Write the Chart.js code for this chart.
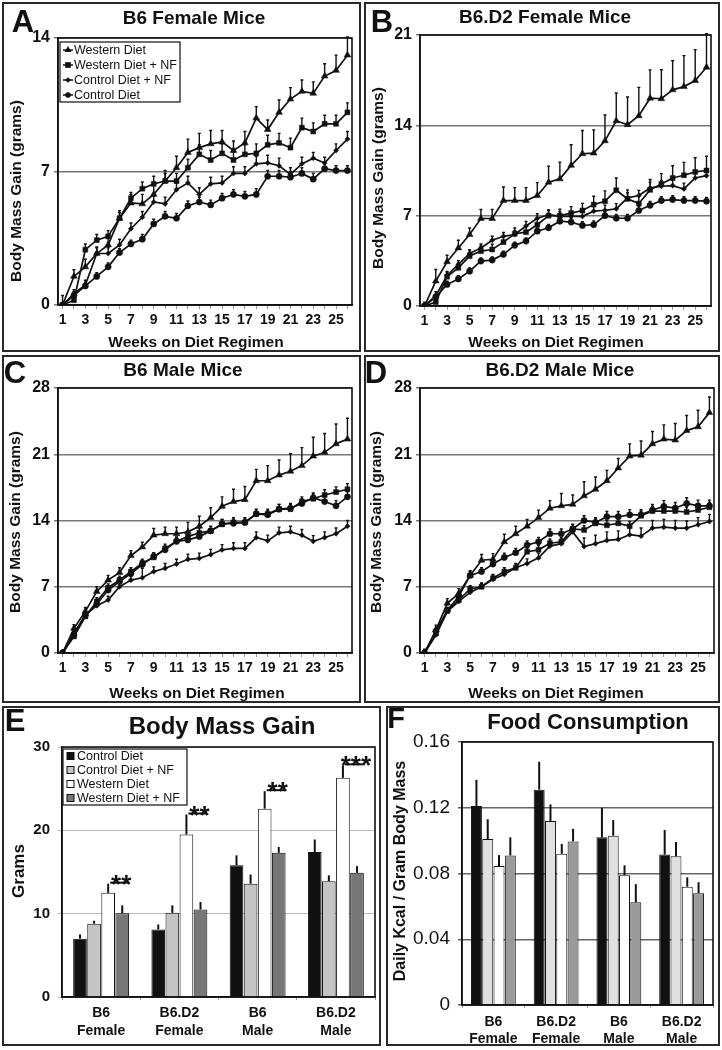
<!DOCTYPE html>
<html>
<head>
<meta charset="utf-8">
<title>Body mass gain and food consumption</title>
<script src="https://cdn.jsdelivr.net/npm/chart.js@4.4.1/dist/chart.umd.min.js"></script>
<style>
  html, body { margin: 0; padding: 0; background: #fff; }
  #page { position: relative; width: 722px; height: 1050px; overflow: hidden; font-family: "Liberation Sans", Arial, sans-serif; color: #111; }
  canvas { position: absolute; }
  .frame { position: absolute; box-sizing: border-box; border: 2px solid #2a2a2a; pointer-events: none; }
  .lbl { position: absolute; font-weight: bold; white-space: nowrap; line-height: 1; transform: translate(-50%, -50%); }
  .rot { transform: translate(-50%, -50%) rotate(-90deg); }
</style>
</head>
<body>
<div id="page"></div>
<script>
// x categories for the weekly curves
const weeks = [1, 2, 3, 4, 5, 6, 7, 8, 9, 10, 11, 12, 13, 14, 15, 16, 17, 18, 19, 20, 21, 22, 23, 24, 25, 26];
const lineSeries = ["Western Diet", "Western Diet + NF", "Control Diet + NF", "Control Diet"];

// A - B6 female
const b6fWestern   = [0, 1.5, 2.0, 2.7, 3.15, 4.55, 5.35, 5.3, 5.8, 6.5, 7.2, 8.0, 8.25, 8.45, 8.55, 8.1, 8.5, 9.8, 9.2, 10.1, 10.8, 11.2, 11.1, 12.0, 12.3, 13.1];
const b6fWesternNF = [0, 0.25, 2.9, 3.4, 3.6, 4.55, 5.6, 6.1, 6.35, 6.5, 6.5, 7.2, 7.9, 7.6, 7.95, 7.6, 7.9, 7.95, 8.4, 8.5, 8.25, 9.3, 9.1, 9.5, 9.5, 10.1];
const b6fControlNF = [0, 0.6, 1.05, 2.7, 2.7, 3.15, 4.0, 4.6, 5.4, 5.3, 6.05, 6.4, 5.8, 6.35, 6.4, 6.9, 6.9, 7.4, 7.45, 7.3, 6.85, 7.4, 7.7, 7.45, 8.1, 8.7];
const b6fControl   = [0, 0.5, 1.0, 1.5, 2.0, 2.75, 3.2, 3.45, 4.25, 4.65, 4.55, 5.2, 5.4, 5.25, 5.6, 5.8, 5.7, 5.8, 6.75, 6.75, 6.7, 6.9, 6.6, 7.15, 7.05, 7.05];
const b6fWesternErr   = [0.5, 0.35, 0.4, 0.35, 0.35, 0.4, 0.45, 0.5, 0.55, 0.55, 0.6, 0.7, 0.75, 0.7, 0.6, 0.5, 0.6, 0.6, 0.5, 0.65, 0.6, 0.6, 0.6, 0.65, 0.8, 0.95];
const b6fWesternNFErr = [0, 0.15, 0.3, 0.3, 0.3, 0.3, 0.3, 0.35, 0.4, 0.4, 0.4, 0.45, 0.5, 0.5, 0.5, 0.45, 0.5, 0.5, 0.5, 0.5, 0.5, 0.5, 0.45, 0.45, 0.45, 0.5];
const b6fControlNFErr = [0, 0.2, 0.25, 0.3, 0.3, 0.3, 0.3, 0.3, 0.3, 0.35, 0.35, 0.35, 0.35, 0.35, 0.35, 0.35, 0.35, 0.4, 0.4, 0.4, 0.35, 0.35, 0.3, 0.3, 0.35, 0.4];
const b6fControlErr   = [0, 0.2, 0.2, 0.2, 0.2, 0.2, 0.2, 0.25, 0.25, 0.25, 0.25, 0.25, 0.25, 0.25, 0.25, 0.25, 0.25, 0.3, 0.3, 0.3, 0.3, 0.3, 0.3, 0.25, 0.25, 0.25];

// B - B6.D2 female
const d2fWestern   = [0, 1.93, 3.43, 4.5, 5.54, 6.78, 6.78, 8.17, 8.17, 8.17, 8.56, 9.59, 9.85, 10.9, 11.8, 11.85, 12.8, 14.35, 14.05, 14.74, 16.1, 16.06, 16.75, 17.0, 17.47, 18.5];
const d2fWesternNF = [0, 0.3, 2.27, 2.96, 3.87, 4.25, 4.38, 4.95, 5.6, 5.72, 6.3, 7.0, 7.0, 7.2, 7.4, 7.86, 8.12, 8.97, 8.3, 7.94, 9.0, 9.46, 9.92, 10.13, 10.39, 10.5];
const d2fControlNF = [0, 0.8, 2.37, 3.22, 4.07, 4.5, 5.1, 5.4, 5.54, 6.2, 6.8, 7.07, 6.95, 6.95, 6.95, 7.35, 7.42, 7.53, 8.38, 8.56, 9.15, 9.28, 9.33, 9.07, 9.92, 10.1];
const d2fControl   = [0, 0.7, 1.67, 2.1, 2.7, 3.48, 3.56, 4.0, 4.7, 5.03, 5.8, 6.06, 6.57, 6.5, 6.24, 6.3, 7.0, 6.8, 6.8, 7.4, 7.8, 8.17, 8.25, 8.17, 8.17, 8.12];
const d2fWesternErr   = [0.3, 0.9, 0.5, 0.6, 0.5, 0.7, 0.7, 1.05, 1.0, 1.0, 1.0, 1.25, 1.3, 1.6, 1.8, 1.8, 2.0, 2.15, 2.15, 2.2, 2.2, 2.25, 2.25, 2.4, 2.4, 2.6];
const d2fWesternNFErr = [0, 0.3, 0.35, 0.35, 0.4, 0.4, 0.4, 0.45, 0.45, 0.45, 0.45, 0.45, 0.5, 0.5, 0.55, 0.65, 0.8, 0.95, 0.7, 0.6, 0.8, 0.8, 0.95, 1.0, 1.1, 1.1];
const d2fControlNFErr = [0, 0.3, 0.3, 0.3, 0.3, 0.3, 0.3, 0.3, 0.3, 0.35, 0.35, 0.35, 0.35, 0.35, 0.35, 0.35, 0.4, 0.4, 0.4, 0.4, 0.45, 0.45, 0.45, 0.45, 0.45, 0.45];
const d2fControlErr   = [0, 0.2, 0.25, 0.25, 0.25, 0.25, 0.25, 0.25, 0.25, 0.25, 0.25, 0.25, 0.25, 0.3, 0.3, 0.3, 0.3, 0.3, 0.3, 0.3, 0.3, 0.3, 0.3, 0.3, 0.3, 0.3];

// C - B6 male
const b6mWestern   = [0, 2.6, 4.4, 6.5, 7.7, 8.5, 10.3, 11.2, 12.45, 12.6, 12.6, 12.8, 13.4, 14.3, 15.5, 16.0, 16.2, 18.2, 18.2, 18.8, 19.2, 19.8, 20.8, 21.2, 22.1, 22.6];
const b6mWesternNF = [0, 1.75, 3.86, 5.44, 6.9, 7.72, 8.6, 9.5, 10.1, 11.05, 11.8, 12.3, 12.7, 12.9, 13.6, 13.8, 13.8, 14.7, 14.7, 15.2, 15.2, 16.0, 16.3, 16.7, 17.0, 17.3];
const b6mControlNF = [0, 2.1, 4.0, 5.0, 5.6, 7.0, 7.7, 7.95, 8.6, 8.95, 9.4, 9.9, 10.0, 10.4, 10.9, 11.05, 11.05, 12.2, 11.85, 12.7, 12.8, 12.45, 11.8, 12.2, 12.6, 13.4];
const b6mControl   = [0, 1.9, 4.0, 5.15, 6.65, 7.55, 8.4, 9.35, 10.2, 10.9, 11.8, 11.95, 12.3, 12.9, 13.65, 13.7, 13.8, 14.7, 14.6, 15.2, 15.3, 15.8, 16.4, 16.0, 15.55, 16.5];
const b6mWesternErr   = [0.3, 0.4, 0.4, 0.5, 0.5, 0.5, 0.5, 0.5, 0.7, 0.7, 0.7, 1.0, 1.05, 1.05, 1.0, 1.3, 1.4, 1.2, 1.6, 1.6, 1.85, 1.9, 2.0, 2.0, 2.1, 2.2];
const b6mWesternNFErr = [0, 0.3, 0.3, 0.4, 0.4, 0.4, 0.4, 0.4, 0.45, 0.45, 0.45, 0.5, 0.5, 0.5, 0.5, 0.5, 0.5, 0.5, 0.5, 0.5, 0.5, 0.5, 0.5, 0.55, 0.55, 0.6];
const b6mControlNFErr = [0, 0.3, 0.3, 0.4, 0.4, 0.4, 0.4, 1.0, 0.5, 0.5, 0.5, 0.55, 0.55, 0.55, 0.55, 0.6, 0.6, 0.6, 0.6, 0.6, 0.6, 0.6, 0.6, 0.6, 0.6, 0.6];
const b6mControlErr   = [0, 0.3, 0.3, 0.4, 0.4, 0.4, 0.4, 0.4, 0.4, 0.4, 0.4, 0.4, 0.45, 0.45, 0.45, 0.45, 0.45, 0.45, 0.45, 0.5, 0.5, 0.5, 0.5, 0.5, 0.55, 0.55];

// D - B6.D2 male
const d2mWestern   = [0, 2.45, 5.25, 6.3, 8.2, 9.8, 9.9, 11.75, 12.6, 13.4, 14.3, 15.3, 15.55, 15.7, 16.6, 17.3, 18.2, 19.55, 20.8, 20.9, 22.1, 22.6, 22.5, 23.5, 23.9, 25.4];
const d2mWesternNF = [0, 2.1, 4.45, 5.6, 6.77, 7.0, 7.9, 8.6, 9.0, 10.7, 10.9, 11.6, 11.75, 13.1, 13.0, 13.7, 13.5, 13.7, 13.4, 14.5, 15.0, 15.0, 15.0, 14.9, 15.1, 15.4];
const d2mControlNF = [0, 1.9, 4.4, 5.45, 6.4, 7.0, 7.8, 8.3, 9.0, 9.45, 10.05, 11.3, 11.55, 12.8, 11.25, 11.55, 11.9, 12.0, 12.5, 12.35, 13.2, 13.3, 13.2, 13.2, 13.55, 13.9];
const d2mControl   = [0, 2.3, 4.5, 6.0, 8.2, 8.6, 9.4, 10.1, 10.6, 11.4, 11.75, 12.6, 12.6, 13.1, 14.0, 13.8, 14.4, 14.4, 14.6, 14.6, 15.1, 15.5, 15.3, 15.8, 15.55, 15.55];
const d2mWesternErr   = [0.4, 0.5, 0.5, 0.5, 0.5, 0.6, 0.6, 0.8, 0.8, 0.7, 0.8, 0.8, 1.3, 1.0, 1.5, 1.3, 1.1, 1.0, 1.3, 1.5, 1.3, 1.5, 1.75, 1.6, 1.75, 1.65];
const d2mWesternNFErr = [0, 0.3, 0.3, 0.35, 0.35, 0.35, 0.4, 0.4, 0.4, 0.4, 0.45, 0.45, 0.45, 0.45, 0.45, 0.5, 0.5, 0.5, 0.5, 0.5, 0.5, 0.5, 0.5, 0.5, 0.5, 0.5];
const d2mControlNFErr = [0, 0.3, 0.3, 0.4, 0.4, 0.4, 0.45, 0.45, 0.45, 0.5, 0.5, 0.5, 0.5, 0.5, 0.9, 0.9, 0.9, 0.9, 0.9, 0.85, 0.8, 0.8, 0.8, 0.75, 0.75, 0.75];
const d2mControlErr   = [0, 0.3, 0.3, 0.4, 0.4, 0.4, 0.4, 0.45, 0.45, 0.45, 0.45, 0.5, 0.5, 0.5, 0.5, 0.5, 0.55, 0.55, 0.55, 0.55, 0.6, 0.6, 0.6, 0.6, 0.6, 0.6];

// E / F bar groups
const groups = [["B6", "Female"], ["B6.D2", "Female"], ["B6", "Male"], ["B6.D2", "Male"]];
const barSeries = ["Control Diet", "Control Diet + NF", "Western Diet", "Western Diet + NF"];

const gainControl   = [7.0, 8.1, 15.8, 17.4];
const gainControlNF = [8.8, 10.1, 13.6, 13.9];
const gainWestern   = [12.5, 19.5, 22.6, 26.3];
const gainWesternNF = [10.05, 10.5, 17.3, 14.9];
const gainControlErr   = [0.5, 0.6, 1.2, 1.5];
const gainControlNFErr = [0.35, 0.9, 1.1, 0.7];
const gainWesternErr   = [1.1, 2.4, 2.1, 1.5];
const gainWesternNFErr = [0.95, 0.9, 0.7, 0.8];
const gainStars = ["**", "**", "**", "***"];

const foodControl   = [0.121, 0.131, 0.102, 0.0915];
const foodControlNF = [0.101, 0.112, 0.103, 0.0905];
const foodWestern   = [0.0845, 0.092, 0.079, 0.072];
const foodWesternNF = [0.091, 0.0995, 0.0625, 0.068];
const foodControlErr   = [0.016, 0.017, 0.018, 0.015];
const foodControlNFErr = [0.012, 0.010, 0.0095, 0.0087];
const foodWesternErr   = [0.0067, 0.006, 0.006, 0.0057];
const foodWesternNFErr = [0.011, 0.0077, 0.011, 0.0067];

// tick values
const ticksA = [0, 7, 14];
const ticksB = [0, 7, 14, 21];
const ticksCD = [0, 7, 14, 21, 28];
const ticksE = [0, 10, 20, 30];
const ticksF = [0, 0.04, 0.08, 0.12, 0.16];

Chart.defaults.font.family = '"Liberation Sans", Arial, sans-serif';
Chart.defaults.color = "#111";

const page = document.getElementById("page");

function drawMarker(ctx, style, r, x, y) {
  ctx.beginPath();
  if (style === "triangle") {
    ctx.moveTo(x, y - r * 1.15); ctx.lineTo(x + r, y + r * 0.6); ctx.lineTo(x - r, y + r * 0.6); ctx.closePath();
  } else if (style === "rect") {
    ctx.rect(x - r * 0.9, y - r * 0.9, r * 1.8, r * 1.8);
  } else if (style === "rectRot") {
    ctx.moveTo(x, y - r * 1.2); ctx.lineTo(x + r * 1.2, y); ctx.lineTo(x, y + r * 1.2); ctx.lineTo(x - r * 1.2, y); ctx.closePath();
  } else {
    ctx.arc(x, y, r, 0, Math.PI * 2);
  }
  ctx.fill();
}

// vertical (upper) error bars read through the y scale
const errorBars = {
  id: "errorBars",
  afterDatasetsDraw(chart, args, o) {
    const ctx = chart.ctx, ys = chart.scales.y;
    ctx.save();
    ctx.strokeStyle = "#111";
    ctx.lineWidth = o.width || 1.2;
    chart.data.datasets.forEach((ds, i) => {
      if (!ds.errors) return;
      chart.getDatasetMeta(i).data.forEach((el, j) => {
        const raw = ds.data[j];
        const v = typeof raw === "object" ? raw.y : raw;
        const top = ys.getPixelForValue(v + ds.errors[j]);
        ctx.beginPath();
        ctx.moveTo(el.x, el.y);
        ctx.lineTo(el.x, top);
        if (o.cap) { ctx.moveTo(el.x - o.cap, top); ctx.lineTo(el.x + o.cap, top); }
        ctx.stroke();
      });
    });
    ctx.restore();
  }
};

const plotFrame = {
  id: "plotFrame",
  afterDraw(chart) {
    const a = chart.chartArea, ctx = chart.ctx;
    ctx.save();
    ctx.strokeStyle = "#111";
    ctx.lineWidth = 1.6;
    ctx.strokeRect(a.left, a.top, a.right - a.left, a.bottom - a.top);
    ctx.restore();
  }
};

// boxed legend in the corner of the plot
const boxLegend = {
  id: "boxLegend",
  afterDraw(chart, args, o) {
    if (!o.box) return;
    const ctx = chart.ctx;
    const [bx, by, bw, bh] = o.box;
    ctx.save();
    ctx.fillStyle = "#fff";
    ctx.fillRect(bx, by, bw, bh);
    ctx.strokeStyle = "#222";
    ctx.lineWidth = 1.3;
    ctx.strokeRect(bx, by, bw, bh);
    ctx.font = o.font;
    ctx.textBaseline = "middle";
    chart.data.datasets.forEach((ds, i) => {
      const y = by + o.first + i * o.row;
      if (o.kind === "line") {
        ctx.strokeStyle = "#111";
        ctx.lineWidth = 1.5;
        ctx.beginPath(); ctx.moveTo(bx + 3, y); ctx.lineTo(bx + 13, y); ctx.stroke();
        ctx.fillStyle = "#111";
        drawMarker(ctx, ds.pointStyle, ds.pointRadius * 0.9, bx + 8, y);
      } else {
        ctx.fillStyle = ds.backgroundColor;
        ctx.fillRect(bx + 4, y - 3.5, 7, 7);
        ctx.strokeStyle = "#111";
        ctx.lineWidth = 1;
        ctx.strokeRect(bx + 4, y - 3.5, 7, 7);
      }
      ctx.fillStyle = "#111";
      ctx.fillText(ds.label, bx + 14, y + 0.5);
    });
    ctx.restore();
  }
};

// significance stars between Western Diet and Western Diet + NF
const sigMarks = {
  id: "sigMarks",
  afterDraw(chart, args, o) {
    if (!o.marks) return;
    const ctx = chart.ctx, ys = chart.scales.y;
    const west = chart.getDatasetMeta(2).data, wnf = chart.getDatasetMeta(3).data;
    const wds = chart.data.datasets[2];
    ctx.save();
    ctx.strokeStyle = "#111";
    ctx.fillStyle = "#111";
    ctx.lineWidth = 2;
    ctx.font = "bold 26px 'Liberation Sans', Arial, sans-serif";
    ctx.textAlign = "center";
    o.marks.forEach((m, j) => {
      const x1 = west[j].x + 2, x2 = wnf[j].x + wnf[j].width / 2 - 1;
      const y = ys.getPixelForValue(wds.data[j] + wds.errors[j]) - 1;
      ctx.beginPath(); ctx.moveTo(x1, y); ctx.lineTo(x2, y); ctx.stroke();
      ctx.fillText(m, (x1 + x2) / 2 + 2, y + 10);
    });
    ctx.restore();
  }
};

Chart.register(errorBars, plotFrame, boxLegend, sigMarks);

function place(box) {
  const c = document.createElement("canvas");
  c.width = box[2] - box[0];
  c.height = box[3] - box[1];
  c.style.left = box[0] + "px";
  c.style.top = box[1] + "px";
  page.appendChild(c);
  const f = document.createElement("div");
  f.className = "frame";
  f.style.left = box[0] + "px";
  f.style.top = box[1] + "px";
  f.style.width = (box[2] - box[0]) + "px";
  f.style.height = (box[3] - box[1]) + "px";
  page.appendChild(f);
  return c;
}

function text(str, cx, cy, size, extra) {
  const d = document.createElement("div");
  d.className = "lbl" + (extra && extra.rot ? " rot" : "");
  d.textContent = str;
  d.style.left = cx + "px";
  d.style.top = cy + "px";
  d.style.fontSize = size + "px";
  page.appendChild(d);
}

const markers = [
  { pointStyle: "triangle", pointRadius: 3.9 },
  { pointStyle: "rect", pointRadius: 3.5 },
  { pointStyle: "rectRot", pointRadius: 2.6 },
  { pointStyle: "circle", pointRadius: 3.1 }
];

function lineChart(box, plot, yTicks, values, errors, legend) {
  new Chart(place(box), {
    type: "line",
    data: {
      datasets: lineSeries.map((name, i) => ({
        label: name,
        data: weeks.map((w, j) => ({ x: w, y: values[i][j] })),
        errors: errors[i],
        borderColor: "#111",
        borderWidth: 1.7,
        backgroundColor: "#111",
        pointBackgroundColor: "#111",
        pointBorderColor: "#111",
        pointBorderWidth: 0.5,
        pointStyle: markers[i].pointStyle,
        pointRadius: markers[i].pointRadius,
        tension: 0
      }))
    },
    options: {
      responsive: false,
      animation: false,
      devicePixelRatio: 1,
      layout: { padding: { left: 0, top: plot[1] - box[1], right: box[2] - plot[2], bottom: 0 } },
      plugins: {
        legend: { display: false },
        tooltip: { enabled: false },
        errorBars: { width: 1.4, cap: 1.5 },
        boxLegend: legend || {},
        sigMarks: {}
      },
      scales: {
        x: {
          type: "linear", min: 0.6, max: 26.4,
          afterBuildTicks: s => { s.ticks = weeks.map(v => ({ value: v })); },
          afterFit: s => { s.height = box[3] - plot[3]; },
          ticks: { autoSkip: false, maxRotation: 0, padding: 3, font: { size: 14, weight: "bold" },
                   callback: v => (v % 2 === 1 ? String(v) : "") },
          grid: { drawOnChartArea: false, drawTicks: true, tickLength: 4, color: "#999" },
          border: { display: true, color: "#111", width: 1.5 }
        },
        y: {
          min: 0, max: yTicks[yTicks.length - 1],
          afterBuildTicks: s => { s.ticks = yTicks.map(v => ({ value: v })); },
          afterFit: s => { s.width = plot[0] - box[0]; },
          ticks: { padding: 4, font: { size: 16, weight: "bold" } },
          grid: { color: "#777", lineWidth: 1.5, drawTicks: true, tickLength: 4 },
          border: { display: true, color: "#111", width: 1.5 }
        }
      }
    }
  });
}

function barChart(box, plot, yTicks, values, errors, colors, opts) {
  new Chart(place(box), {
    type: "bar",
    data: {
      labels: groups,
      datasets: barSeries.map((name, i) => ({
        label: name,
        data: values[i],
        errors: errors[i],
        backgroundColor: colors[i],
        borderColor: "#111",
        borderWidth: 1,
        categoryPercentage: 0.72,
        barPercentage: 0.97
      }))
    },
    options: {
      responsive: false,
      animation: false,
      devicePixelRatio: 1,
      layout: { padding: { left: 0, top: plot[1] - box[1], right: box[2] - plot[2], bottom: 0 } },
      plugins: {
        legend: { display: false },
        tooltip: { enabled: false },
        errorBars: { width: 2 },
        boxLegend: opts.legend || {},
        sigMarks: opts.sig || {}
      },
      scales: {
        x: {
          afterFit: s => { s.height = box[3] - plot[3]; },
          ticks: { autoSkip: false, maxRotation: 0, padding: opts.xPad, font: { size: 14, weight: "bold", lineHeight: opts.xLine } },
          grid: { drawOnChartArea: false, drawTicks: true, tickLength: 3, color: "#999" },
          border: { display: true, color: "#111", width: 1.5 }
        },
        y: {
          min: 0, max: yTicks[yTicks.length - 1],
          afterBuildTicks: s => { s.ticks = yTicks.map(v => ({ value: v })); },
          afterFit: s => { s.width = plot[0] - box[0]; },
          ticks: { padding: 8, font: opts.yFont, callback: v => (v === 0 ? "0" : String(+v.toFixed(2))) },
          grid: { color: opts.gridColor, lineWidth: opts.gridWidth, drawTicks: true, tickLength: 4 },
          border: { display: true, color: "#111", width: 1.5 }
        }
      }
    }
  });
}

// panel geometry: box [l, t, r, b], plot [l, t, r, b]
lineChart([2, 2, 361, 352], [58, 38, 352, 305], ticksA,
  [b6fWestern, b6fWesternNF, b6fControlNF, b6fControl],
  [b6fWesternErr, b6fWesternNFErr, b6fControlNFErr, b6fControlErr],
  { kind: "line", box: [58, 40, 120, 60], first: 8, row: 15, font: "12.5px 'Liberation Sans', Arial, sans-serif" });

lineChart([364, 2, 720, 352], [420, 35, 711, 306], ticksB,
  [d2fWestern, d2fWesternNF, d2fControlNF, d2fControl],
  [d2fWesternErr, d2fWesternNFErr, d2fControlNFErr, d2fControlErr]);

lineChart([2, 355, 361, 703], [58, 388, 352, 653], ticksCD,
  [b6mWestern, b6mWesternNF, b6mControlNF, b6mControl],
  [b6mWesternErr, b6mWesternNFErr, b6mControlNFErr, b6mControlErr]);

lineChart([364, 355, 720, 703], [420, 388, 714, 653], ticksCD,
  [d2mWestern, d2mWesternNF, d2mControlNF, d2mControl],
  [d2mWesternErr, d2mWesternNFErr, d2mControlNFErr, d2mControlErr]);

barChart([2, 706, 381, 1046], [62, 747, 375, 997], ticksE,
  [gainControl, gainControlNF, gainWestern, gainWesternNF],
  [gainControlErr, gainControlNFErr, gainWesternErr, gainWesternNFErr],
  ["#111", "#c4c4c4", "#fff", "#777"],
  { xPad: 4, xLine: 1.3, yFont: { size: 15, weight: "bold" }, gridColor: "#bbb", gridWidth: 1,
    legend: { kind: "bar", box: [61, 43, 124, 56], first: 7, row: 14, font: "12.5px 'Liberation Sans', Arial, sans-serif" },
    sig: { marks: gainStars } });

barChart([386, 706, 720, 1046], [462, 742, 713, 1005], ticksF,
  [foodControl, foodControlNF, foodWestern, foodWesternNF],
  [foodControlErr, foodControlNFErr, foodWesternErr, foodWesternNFErr],
  ["#111", "#e0e0e0", "#fff", "#9a9a9a"],
  { xPad: 5, xLine: 1.25, yFont: { size: 19, weight: "normal" }, gridColor: "#666", gridWidth: 1.5 });

// panel letters, titles and axis titles
text("A", 23, 21, 31); text("B", 382, 21, 31); text("C", 15, 372, 31); text("D", 376, 372, 31);
text("E", 15, 720, 31); text("F", 396, 718, 29);
text("B6 Female Mice", 194, 17, 19);
text("B6.D2 Female Mice", 545, 16, 19);
text("B6 Male Mice", 183, 369, 19);
text("B6.D2 Male Mice", 560, 369, 19);
text("Body Mass Gain", 222, 726, 24);
text("Food Consumption", 588, 722, 22);
text("Body Mass Gain (grams)", 16, 191, 15.5, { rot: true });
text("Body Mass Gain (grams)", 378, 178, 15.5, { rot: true });
text("Body Mass Gain (grams)", 15, 522, 15.5, { rot: true });
text("Body Mass Gain (grams)", 376, 522, 15.5, { rot: true });
text("Grams", 18, 871, 17, { rot: true });
text("Daily Kcal / Gram Body Mass", 400, 871, 16, { rot: true });
text("Weeks on Diet Regimen", 196, 342, 15.5);
text("Weeks on Diet Regimen", 556, 342, 15.5);
text("Weeks on Diet Regimen", 197, 693, 15.5);
text("Weeks on Diet Regimen", 556, 693, 15.5);
</script>
</body>
</html>
